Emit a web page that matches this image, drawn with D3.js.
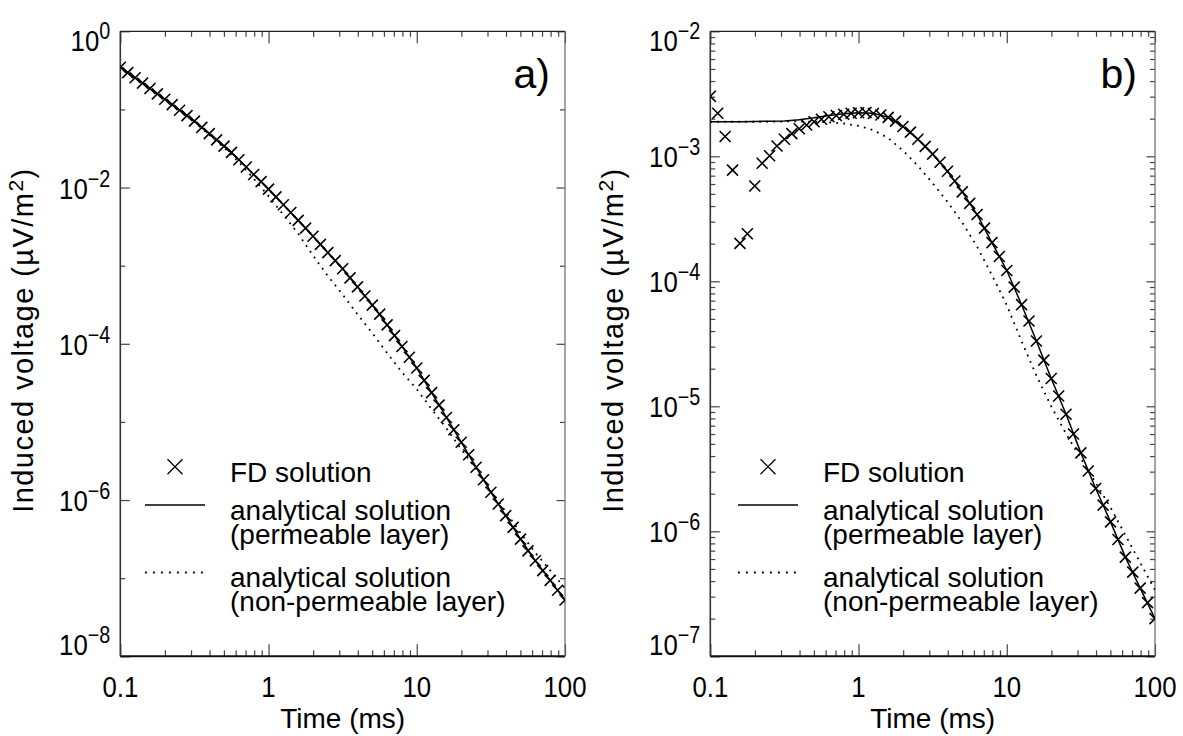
<!DOCTYPE html>
<html>
<head>
<meta charset="utf-8">
<script src="https://cdn.jsdelivr.net/npm/d3@7"></script>
<style>
  body { margin: 0; background: #fff; }
  svg text { font-family: "Liberation Sans", Arial, Helvetica, sans-serif; fill: #000; }
</style>
</head>
<body>
<svg id="chart" width="1183" height="736"></svg>
<script>
// ---- time samples (ms) ----
const timeFD = [
  0.1, 0.1122, 0.1259, 0.1413, 0.1585, 0.1778, 0.1995, 0.2239, 0.2512, 0.2818,
  0.3162, 0.3548, 0.3981, 0.4467, 0.5012, 0.5623, 0.631, 0.7079, 0.7943, 0.8913,
  1, 1.122, 1.259, 1.413, 1.585, 1.778, 1.995, 2.239, 2.512, 2.818,
  3.162, 3.548, 3.981, 4.467, 5.012, 5.623, 6.31, 7.079, 7.943, 8.913,
  10, 11.22, 12.59, 14.13, 15.85, 17.78, 19.95, 22.39, 25.12, 28.18,
  31.62, 35.48, 39.81, 44.67, 50.12, 56.23, 63.1, 70.79, 79.43, 89.13,
  100
];
const timeAnalytic = [
  0.1, 0.1259, 0.1585, 0.1995, 0.2512, 0.3162, 0.3981, 0.5012, 0.631, 0.7943,
  1, 1.259, 1.585, 1.995, 2.512, 3.162, 3.981, 5.012, 6.31, 7.943,
  10, 12.59, 15.85, 19.95, 25.12, 31.62, 39.81, 50.12, 63.1, 79.43,
  100
];

// ---- panel a: induced voltage (uV/m^2) ----
const fdA = [
  3.47e-1, 2.96e-1, 2.54e-1, 2.17e-1, 1.85e-1, 1.58e-1, 1.35e-1, 1.15e-1, 9.77e-2, 8.32e-2,
  7.08e-2, 5.89e-2, 4.90e-2, 4.07e-2, 3.39e-2, 2.82e-2, 2.27e-2, 1.83e-2, 1.47e-2, 1.19e-2,
  9.55e-3, 7.59e-3, 6.03e-3, 4.79e-3, 3.80e-3, 3.02e-3, 2.38e-3, 1.87e-3, 1.47e-3, 1.16e-3,
  9.12e-4, 6.98e-4, 5.35e-4, 4.09e-4, 3.13e-4, 2.40e-4, 1.75e-4, 1.27e-4, 9.25e-5, 6.73e-5,
  4.90e-5, 3.40e-5, 2.37e-5, 1.64e-5, 1.14e-5, 7.94e-6, 5.50e-6, 3.80e-6, 2.63e-6, 1.82e-6,
  1.26e-6, 8.91e-7, 6.31e-7, 4.47e-7, 3.16e-7, 2.24e-7, 1.67e-7, 1.25e-7, 9.38e-8, 7.01e-8,
  5.25e-8
];
const permA = [
  3.47e-1, 2.54e-1, 1.85e-1, 1.35e-1, 9.77e-2, 7.08e-2, 4.90e-2, 3.39e-2, 2.27e-2, 1.47e-2,
  9.55e-3, 6.03e-3, 3.80e-3, 2.38e-3, 1.47e-3, 9.12e-4, 5.35e-4, 3.13e-4, 1.75e-4, 9.25e-5,
  4.90e-5, 2.37e-5, 1.14e-5, 5.50e-6, 2.63e-6, 1.26e-6, 6.31e-7, 3.16e-7, 1.67e-7, 9.38e-8,
  5.25e-8
];
const nonPermA = [
  3.47e-1, 2.54e-1, 1.85e-1, 1.35e-1, 9.77e-2, 6.92e-2, 4.73e-2, 3.24e-2, 2.12e-2, 1.30e-2,
  7.76e-3, 4.47e-3, 2.57e-3, 1.35e-3, 7.38e-4, 4.27e-4, 2.39e-4, 1.37e-4, 7.62e-5, 4.32e-5,
  2.63e-5, 1.46e-5, 8.28e-6, 4.47e-6, 2.51e-6, 1.32e-6, 7.08e-7, 3.80e-7, 2.11e-7, 1.26e-7,
  7.41e-8
];

// ---- panel b: induced voltage (uV/m^2) ----
const fdB = [
  3.02e-3, 2.21e-3, 1.44e-3, 7.76e-4, 2.01e-4, 2.40e-4, 5.78e-4, 8.79e-4, 1.01e-3, 1.21e-3,
  1.37e-3, 1.52e-3, 1.66e-3, 1.78e-3, 1.89e-3, 1.98e-3, 2.07e-3, 2.12e-3, 2.17e-3, 2.21e-3,
  2.23e-3, 2.24e-3, 2.20e-3, 2.14e-3, 2.05e-3, 1.91e-3, 1.73e-3, 1.56e-3, 1.37e-3, 1.20e-3,
  1.04e-3, 8.97e-4, 7.60e-4, 6.35e-4, 5.19e-4, 4.20e-4, 3.42e-4, 2.66e-4, 2.04e-4, 1.58e-4,
  1.22e-4, 8.99e-5, 6.50e-5, 4.81e-5, 3.33e-5, 2.34e-5, 1.67e-5, 1.21e-5, 8.63e-6, 6.01e-6,
  4.24e-6, 3.04e-6, 2.20e-6, 1.62e-6, 1.19e-6, 8.59e-7, 6.21e-7, 4.71e-7, 3.51e-7, 2.69e-7,
  2.00e-7
];
const permB = [
  1.89e-3, 1.89e-3, 1.89e-3, 1.90e-3, 1.91e-3, 1.92e-3, 1.96e-3, 2.03e-3, 2.12e-3, 2.19e-3,
  2.23e-3, 2.21e-3, 2.05e-3, 1.73e-3, 1.37e-3, 1.04e-3, 7.60e-4, 5.19e-4, 3.42e-4, 2.04e-4,
  1.22e-4, 6.50e-5, 3.33e-5, 1.67e-5, 8.63e-6, 4.24e-6, 2.20e-6, 1.19e-6, 6.21e-7, 3.51e-7,
  2.00e-7
];
const nonPermB = [
  1.89e-3, 1.89e-3, 1.89e-3, 1.89e-3, 1.89e-3, 1.90e-3, 1.90e-3, 1.89e-3, 1.87e-3, 1.83e-3,
  1.75e-3, 1.62e-3, 1.40e-3, 1.11e-3, 8.41e-4, 6.10e-4, 4.32e-4, 2.95e-4, 1.89e-4, 1.12e-4,
  6.46e-5, 3.31e-5, 1.76e-5, 1.00e-5, 6.03e-6, 3.80e-6, 2.45e-6, 1.55e-6, 9.33e-7, 5.62e-7,
  3.39e-7
];

// ---- axis ticks and text ----
const xTickValues = [0.1, 1, 10, 100];
const xTickLabels = ["0.1", "1", "10", "100"];
const yExponentsA = [0, -2, -4, -6, -8];
const yExponentsB = [-2, -3, -4, -5, -6, -7];
const panelLabels = ["a)", "b)"];
const legendLabels = [["FD solution"], ["analytical solution", "(permeable layer)"], ["analytical solution", "(non-permeable layer)"]];
const xTitle = "Time (ms)";

const svg = d3.select("#chart");
const TOP = 31.3, BOTTOM = 656.3;
const NARROW = 0.86; // horizontal squeeze of the numeric tick labels

const panels = [
  { x0: 120.3, x1: 565, yDomain: [1e-8, 1], exps: yExponentsA, oddDecades: true,
    fd: fdA, perm: permA, nonPerm: nonPermA, label: panelLabels[0], labelRight: 550, legendX: 145, titleX: 33 },
  { x0: 710.3, x1: 1155, yDomain: [1e-7, 1e-2], exps: yExponentsB, oddDecades: false,
    fd: fdB, perm: permB, nonPerm: nonPermB, label: panelLabels[1], labelRight: 1137, legendX: 738, titleX: 623 }
];

const crossPath = s => `M${-s},${-s}L${s},${s}M${-s},${s}L${s},${-s}`;
const expText = e => (e < 0 ? "\u2212" + Math.abs(e) : String(e));

panels.forEach((p, pi) => {
  const x = d3.scaleLog().domain([0.1, 100]).range([p.x0, p.x1]);
  const y = d3.scaleLog().domain(p.yDomain).range([BOTTOM, TOP]);
  const g = svg.append("g");

  const clipId = "clip" + pi;
  svg.append("defs").append("clipPath").attr("id", clipId)
    .append("rect").attr("x", p.x0).attr("y", TOP).attr("width", p.x1 - p.x0).attr("height", BOTTOM - TOP);

  // x minor / major ticks, bottom (pointing up) and top (pointing down)
  const xMinor = [];
  [0.1, 1, 10].forEach(d => { for (let k = 2; k <= 9; k++) xMinor.push(d * k); });
  const tickStyle = sel => sel.call(s => s.select(".domain").remove())
    .selectAll("line").attr("stroke", "#444").attr("stroke-width", 1.2);
  g.append("g").attr("transform", `translate(0,${BOTTOM})`)
    .call(d3.axisBottom(x).tickValues(xMinor).tickSize(-6).tickFormat("")).call(tickStyle);
  g.append("g").attr("transform", `translate(0,${BOTTOM})`)
    .call(d3.axisBottom(x).tickValues(xTickValues).tickSize(-12).tickFormat("")).call(tickStyle);
  g.append("g").attr("transform", `translate(0,${TOP})`)
    .call(d3.axisTop(x).tickValues(xMinor).tickSize(-5.5).tickFormat("")).call(tickStyle);
  g.append("g").attr("transform", `translate(0,${TOP})`)
    .call(d3.axisTop(x).tickValues(xTickValues).tickSize(-12).tickFormat("")).call(tickStyle);

  // y ticks
  const majorY = p.exps.map(e => Math.pow(10, e));
  let minorY = [];
  if (p.oddDecades) {
    minorY = [-1, -3, -5, -7].map(e => Math.pow(10, e));
  } else {
    for (let e = -7; e < -2; e++) for (let k = 2; k <= 9; k++) minorY.push(k * Math.pow(10, e));
  }
  g.append("g").attr("transform", `translate(${p.x0},0)`)
    .call(d3.axisLeft(y).tickValues(minorY).tickSize(-5).tickFormat("")).call(tickStyle);
  g.append("g").attr("transform", `translate(${p.x0},0)`)
    .call(d3.axisLeft(y).tickValues(majorY).tickSize(-9.5).tickFormat("")).call(tickStyle);
  g.append("g").attr("transform", `translate(${p.x1},0)`)
    .call(d3.axisRight(y).tickValues(minorY).tickSize(-5).tickFormat("")).call(tickStyle);
  g.append("g").attr("transform", `translate(${p.x1},0)`)
    .call(d3.axisRight(y).tickValues(majorY).tickSize(-8.5).tickFormat("")).call(tickStyle);

  // frame
  g.append("line").attr("x1", p.x0).attr("x2", p.x1).attr("y1", BOTTOM).attr("y2", BOTTOM)
    .attr("stroke", "#111").attr("stroke-width", 2);
  g.append("line").attr("x1", p.x0).attr("x2", p.x0).attr("y1", TOP).attr("y2", BOTTOM)
    .attr("stroke", "#333").attr("stroke-width", 1.6);
  g.append("line").attr("x1", p.x0).attr("x2", p.x1).attr("y1", TOP).attr("y2", TOP)
    .attr("stroke", "#222").attr("stroke-width", 1.3);
  g.append("line").attr("x1", p.x1).attr("x2", p.x1).attr("y1", TOP).attr("y2", BOTTOM)
    .attr("stroke", "#666").attr("stroke-width", 1.2);

  // x tick labels
  g.selectAll(".xl").data(xTickValues).join("text")
    .attr("transform", d => `translate(${x(d)},697) scale(${NARROW},1)`)
    .attr("text-anchor", "middle").attr("font-size", 30).text((d, i) => xTickLabels[i]);

  // y tick labels: 10 with superscript exponent
  const yl = g.selectAll(".yl").data(p.exps).join("text")
    .attr("transform", e => `translate(${p.x0 - 10},${Math.max(50.5, Math.min(655, y(Math.pow(10, e)) + 11))}) scale(${NARROW},1)`)
    .attr("text-anchor", "end").attr("font-size", 30);
  yl.append("tspan").text("10");
  yl.append("tspan").attr("dy", -12).attr("font-size", 23).text(e => expText(e));

  // axis titles
  g.append("text").attr("x", (p.x0 + p.x1) / 2).attr("y", 728)
    .attr("text-anchor", "middle").attr("font-size", 28).text(xTitle);
  const yt = g.append("text")
    .attr("transform", `translate(${p.titleX},${(TOP + BOTTOM) / 2 - 3}) rotate(-90)`)
    .attr("text-anchor", "middle").attr("font-size", 29)
    .attr("textLength", 344).attr("lengthAdjust", "spacing");
  yt.append("tspan").text("Induced voltage (\u00b5V/m");
  yt.append("tspan").attr("dy", -10).attr("font-size", 21).text("2");
  yt.append("tspan").attr("dy", 10).text(")");

  // panel label
  g.append("text").attr("x", p.labelRight).attr("y", 88).attr("text-anchor", "end")
    .attr("font-size", 41).text(p.label);

  // data
  const plot = g.append("g").attr("clip-path", `url(#${clipId})`);
  const line = d3.line().x(d => x(d[0])).y(d => y(d[1]));
  plot.append("path").datum(timeAnalytic.map((t, i) => [t, p.nonPerm[i]]))
    .attr("d", line).attr("fill", "none").attr("stroke", "#000")
    .attr("stroke-width", 1.8).attr("stroke-dasharray", "1.8,5.2");
  plot.append("path").datum(timeAnalytic.map((t, i) => [t, p.perm[i]]))
    .attr("d", line).attr("fill", "none").attr("stroke", "#000").attr("stroke-width", 1.5);
  plot.selectAll(".fd").data(timeFD.map((t, i) => [t, p.fd[i]])).join("path")
    .attr("transform", d => `translate(${x(d[0])},${y(d[1])})`)
    .attr("d", crossPath(5.5)).attr("fill", "none").attr("stroke", "#000").attr("stroke-width", 1.6);

  // legend: symbols and (possibly two-line) labels
  const lx = p.legendX;
  g.append("path").attr("transform", `translate(${lx + 30},466.7)`)
    .attr("d", crossPath(7.5)).attr("stroke", "#000").attr("stroke-width", 1.3).attr("fill", "none");
  g.append("line").attr("x1", lx).attr("x2", lx + 60).attr("y1", 505).attr("y2", 505)
    .attr("stroke", "#000").attr("stroke-width", 1.5);
  g.append("line").attr("x1", lx).attr("x2", lx + 60).attr("y1", 572.5).attr("y2", 572.5)
    .attr("stroke", "#000").attr("stroke-width", 1.8).attr("stroke-dasharray", "1.8,6.2");
  const legendBaselines = [481.7, 520, 587];
  legendLabels.forEach((lines, k) => {
    const t = g.append("text").attr("x", lx + 85).attr("y", legendBaselines[k]).attr("font-size", 28);
    lines.forEach((txt, j) => {
      t.append("tspan").attr("x", lx + 85).attr("dy", j === 0 ? 0 : 24.3).text(txt);
    });
  });
});
</script>
</body>
</html>
